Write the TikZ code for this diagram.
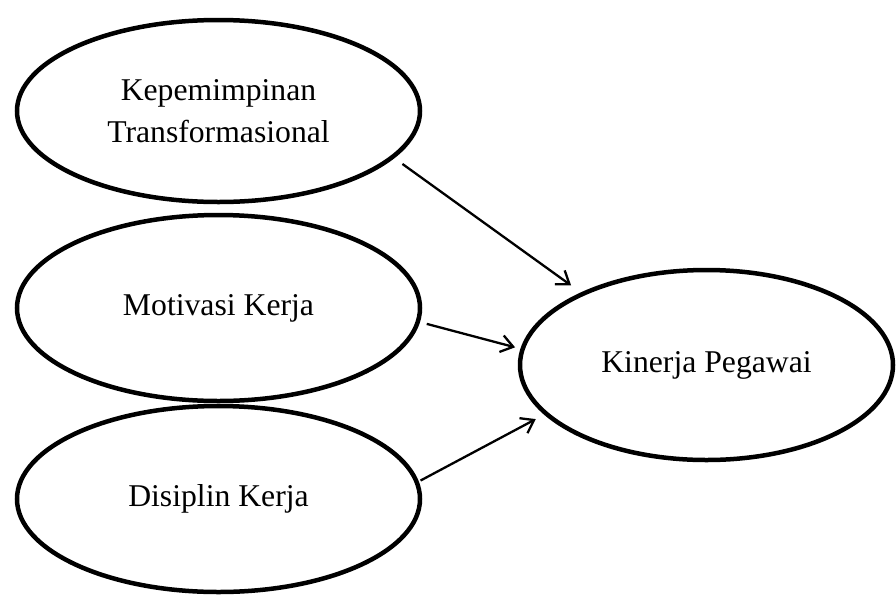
\documentclass[tikz,border=0pt]{standalone}
\usepackage{fontspec}
\setmainfont{Liberation Serif}
\usetikzlibrary{shapes.geometric,arrows.meta}
\begin{document}
\begin{tikzpicture}[x=1pt,y=-1pt,
  var/.style={ellipse, draw, line width=4.5pt, inner sep=0pt, align=center,
    font=\fontsize{31.7}{42}\selectfont},
  link/.style={line width=2.3pt, -{Straight Barb[length=12pt,width=17pt]}}]
\useasboundingbox (0,0) rectangle (896,595);
\node[var, minimum width=403pt, minimum height=182pt] (E1) at (218.5,111) {Kepemimpinan\\Transformasional};
\node[var, minimum width=403pt, minimum height=186pt] (E2) at (218.5,308) {Motivasi Kerja};
\node[var, minimum width=403pt, minimum height=186pt] (E3) at (218.5,499) {Disiplin Kerja};
\node[var, minimum width=373pt, minimum height=190pt] (E4) at (706.5,365) {Kinerja Pegawai};
\draw[link, shorten <=10pt, shorten >=12pt] (E1.-15.5) -- (E4.150.9);
\draw[link, shorten <=7pt, shorten >=5.5pt] (E2.-4.1) -- (E4.175.2);
\draw[link, shorten <=2pt, shorten >=9.5pt] (E3.5.1) -- (E4.-163.9);
\end{tikzpicture}
\end{document}
